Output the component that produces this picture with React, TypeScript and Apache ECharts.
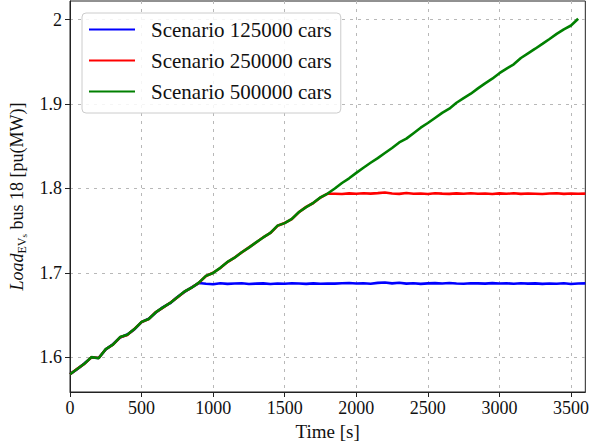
import React, { useEffect, useRef } from "react";
import * as echarts from "echarts";

const times = [
  0, 50, 100, 150, 200, 250, 300, 350, 400, 450, 500, 550, 600, 650, 700, 750, 800, 850, 900, 950,
  1000, 1050, 1100, 1150, 1200, 1250, 1300, 1350, 1400, 1450, 1500, 1550, 1600, 1650, 1700, 1750,
  1800, 1850, 1900, 1950, 2000, 2050, 2100, 2150, 2200, 2250, 2300, 2350, 2400, 2450, 2500, 2550,
  2600, 2650, 2700, 2750, 2800, 2850, 2900, 2950, 3000, 3050, 3100, 3150, 3200, 3250, 3300, 3350,
  3400, 3450, 3500, 3550, 3600,
];

const green500k = [
  1.5800, 1.5862, 1.5925, 1.6003, 1.5990, 1.6098, 1.6152, 1.6240, 1.6268, 1.6335, 1.6420, 1.6455,
  1.6535, 1.6592, 1.6645, 1.6712, 1.6780, 1.6825, 1.6885, 1.6965, 1.7000, 1.7060, 1.7130, 1.7180,
  1.7245, 1.7300, 1.7362, 1.7420, 1.7475, 1.7560, 1.7590, 1.7640, 1.7722, 1.7780, 1.7830, 1.7895,
  1.7940, 1.8000, 1.8065, 1.8120, 1.8185, 1.8245, 1.8305, 1.8360, 1.8420, 1.8480, 1.8545, 1.8590,
  1.8655, 1.8720, 1.8775, 1.8835, 1.8895, 1.8945, 1.9015, 1.9070, 1.9122, 1.9185, 1.9245, 1.9300,
  1.9365, 1.9420, 1.9470, 1.9545, 1.9600, 1.9655, 1.9712, 1.9770, 1.9830, 1.9885, 1.9930, 2.0010,
];

const blue125k = [
  1.5802, 1.5860, 1.5928, 1.6000, 1.5993, 1.6095, 1.6155, 1.6236, 1.6270, 1.6332, 1.6417, 1.6458,
  1.6532, 1.6595, 1.6642, 1.6715, 1.6776, 1.6828, 1.6880, 1.6872, 1.6865, 1.6878, 1.6870, 1.6874,
  1.6877, 1.6869, 1.6873, 1.6876, 1.6868, 1.6875, 1.6871, 1.6877, 1.6874, 1.6870, 1.6876, 1.6872,
  1.6875, 1.6873, 1.6877, 1.6880, 1.6874, 1.6878, 1.6872, 1.6882, 1.6887, 1.6876, 1.6884, 1.6873,
  1.6877, 1.6870, 1.6876, 1.6879, 1.6874, 1.6880, 1.6875, 1.6872, 1.6878, 1.6876, 1.6873, 1.6879,
  1.6874, 1.6877, 1.6871, 1.6878, 1.6873, 1.6876, 1.6870, 1.6875, 1.6872, 1.6877, 1.6869, 1.6874,
  1.6876,
];

const red250k = [
  1.5801, 1.5864, 1.5923, 1.6001, 1.5992, 1.6096, 1.6150, 1.6238, 1.6266, 1.6337, 1.6418, 1.6453,
  1.6537, 1.6590, 1.6647, 1.6710, 1.6778, 1.6827, 1.6883, 1.6963, 1.7002, 1.7058, 1.7128, 1.7182,
  1.7243, 1.7302, 1.7360, 1.7422, 1.7473, 1.7558, 1.7592, 1.7638, 1.7720, 1.7782, 1.7828, 1.7893,
  1.7938, 1.7938, 1.7935, 1.7942, 1.7937, 1.7944, 1.7939, 1.7945, 1.7952, 1.7940, 1.7936, 1.7946,
  1.7938, 1.7941, 1.7935, 1.7943, 1.7939, 1.7936, 1.7942, 1.7937, 1.7944, 1.7938, 1.7940, 1.7935,
  1.7942, 1.7937, 1.7943, 1.7936, 1.7941, 1.7938, 1.7934, 1.7940, 1.7943, 1.7936, 1.7941, 1.7937,
  1.7939,
];

const seriesNames = ["Scenario 125000 cars", "Scenario 250000 cars", "Scenario 500000 cars"];
const xTicks = [0, 500, 1000, 1500, 2000, 2500, 3000, 3500];
const yTicks = [1.6, 1.7, 1.8, 1.9, 2.0];

const FONT = "Liberation Serif";

function pairs(vals: number[]) {
  return vals.map((v, i) => [times[i], v]);
}

export default function App() {
  const ref = useRef<HTMLDivElement>(null);
  useEffect(() => {
    if (!ref.current) return;
    const chart = echarts.init(ref.current, undefined, { renderer: "svg" });
    const gridLine = { show: true, lineStyle: { color: "#b8b8b8", width: 1, type: [3, 5] as any } };
    const mk = (name: string, data: number[], color: string) => ({
      name,
      type: "line",
      data: pairs(data),
      showSymbol: false,
      symbol: "none",
      lineStyle: { color, width: 2.6 },
      itemStyle: { color },
    });
    chart.setOption({
      animation: false,
      backgroundColor: "#fff",
      textStyle: { fontFamily: FONT },
      grid: { left: 70, top: 1, right: 3, bottom: 54, show: true, borderColor: "#222", borderWidth: 1 },
      legend: {
        orient: "vertical",
        left: 82,
        top: 13,
        data: seriesNames,
        icon: "rect",
        itemWidth: 46,
        itemHeight: 2,
        itemGap: 10,
        padding: [6, 9, 11, 7],
        borderColor: "#cccccc",
        borderWidth: 1,
        borderRadius: 4,
        backgroundColor: "rgba(255,255,255,0.85)",
        textStyle: { fontFamily: FONT, fontSize: 21, color: "#111", lineHeight: 20, padding: [0, 0, 0, 11] },
      },
      xAxis: {
        type: "value",
        min: 0,
        max: 3600,
        name: "Time [s]",
        nameLocation: "middle",
        nameGap: 29,
        nameTextStyle: { fontFamily: FONT, fontSize: 19, color: "#111" },
        axisLine: { show: true, lineStyle: { color: "#222", width: 1 } },
        axisTick: { show: true, length: 5, customValues: xTicks, lineStyle: { color: "#222" } },
        axisLabel: {
          customValues: xTicks,
          fontFamily: FONT,
          fontSize: 18,
          color: "#111",
          margin: 7,
          formatter: (v: number) => String(v),
        },
        splitLine: gridLine,
      },
      yAxis: {
        type: "value",
        min: 1.559,
        max: 2.022,
        name: "{it|Load}{sub|EV}{sub2|s}{n| bus 18 [pu(MW)]}",
        nameLocation: "middle",
        nameRotate: 90,
        nameGap: 41,
        nameTextStyle: {
          fontFamily: FONT,
          fontSize: 18,
          color: "#111",
          rich: {
            it: { fontFamily: FONT, fontSize: 18, fontStyle: "italic", color: "#111" },
            sub: { fontFamily: FONT, fontSize: 12, color: "#111", padding: [9, 0, 0, 0] },
            sub2: { fontFamily: FONT, fontSize: 9, color: "#111", padding: [14, 0, 0, 0] },
            n: { fontFamily: FONT, fontSize: 18, color: "#111" },
          },
        },
        axisLine: { show: true, lineStyle: { color: "#222", width: 1 } },
        axisTick: { show: true, length: 5, customValues: yTicks, lineStyle: { color: "#222" } },
        axisLabel: {
          customValues: yTicks,
          fontFamily: FONT,
          fontSize: 18,
          color: "#111",
          margin: 8,
          formatter: (v: number) => String(+v.toFixed(1)),
        },
        splitLine: gridLine,
      },
      series: [
        mk(seriesNames[0], blue125k, "#0000ff"),
        mk(seriesNames[1], red250k, "#ff0000"),
        mk(seriesNames[2], green500k, "#008000"),
      ],
    });
    return () => chart.dispose();
  }, []);
  return <div ref={ref} style={{ width: 592, height: 446, position: "absolute", left: 0, top: 0 }} />;
}
